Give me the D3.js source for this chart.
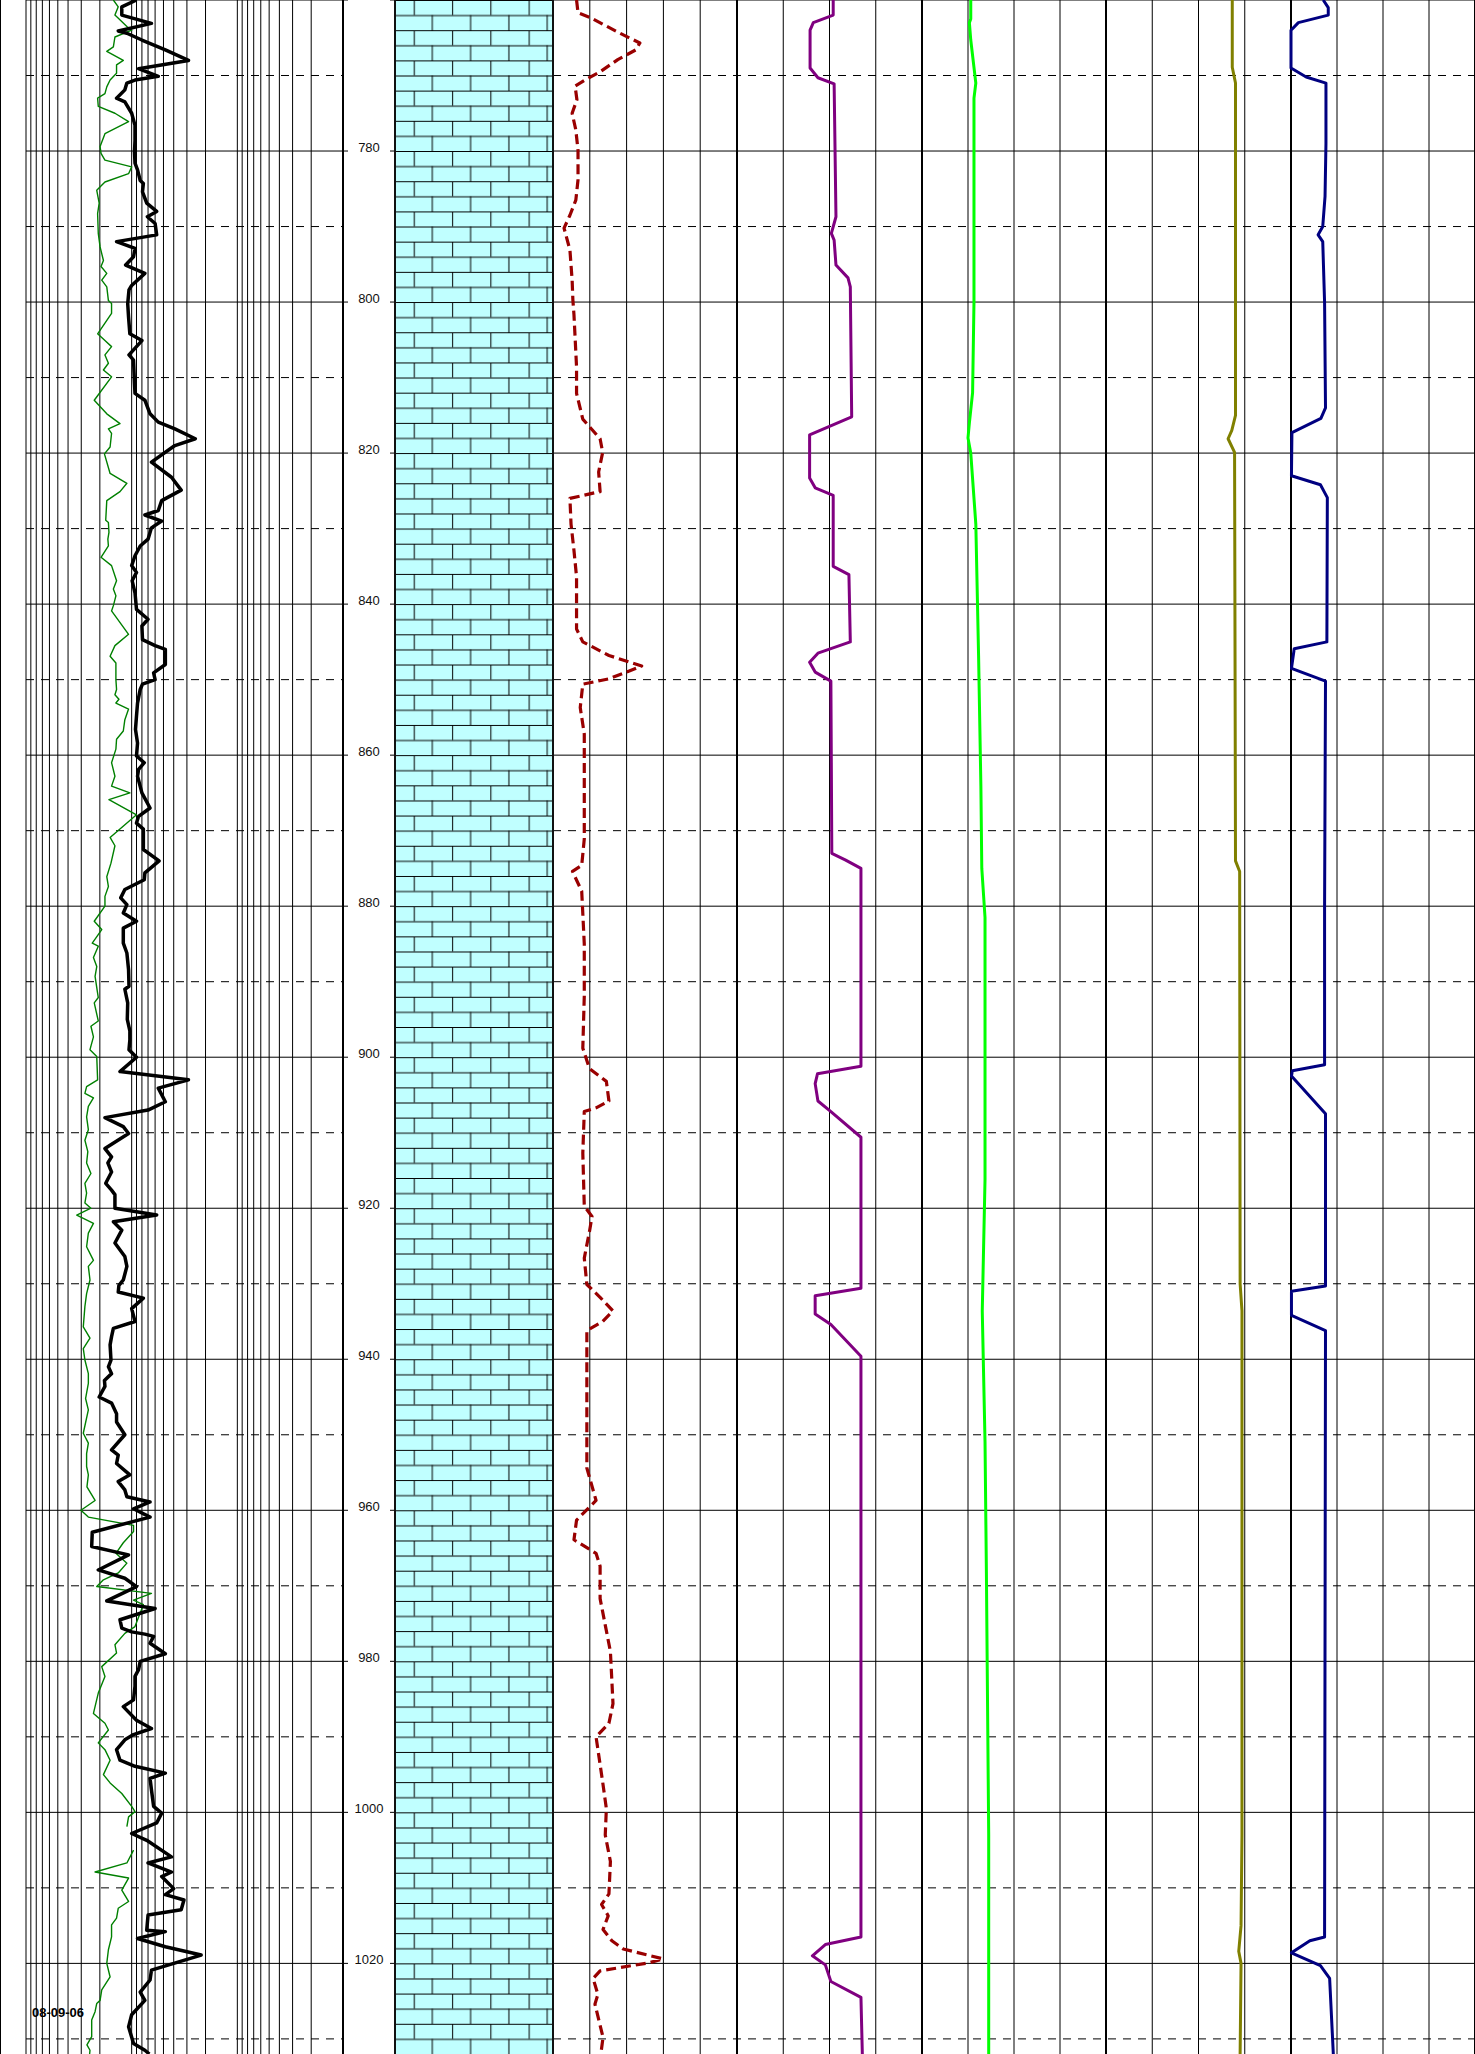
<!DOCTYPE html>
<html>
<head>
<meta charset="utf-8">
<script src="https://cdn.jsdelivr.net/npm/d3@7"></script>
<style>
  body { margin: 0; background: #fff; }
  svg { display: block; font-family: "Liberation Sans", Arial, sans-serif; }
</style>
</head>
<body>
<div id="log"></div>
<script>
const Width = 1475;
const Height = 2054;

// depth axis
const DepthDomain = [760, 1032];
const DepthLabels = [780, 800, 820, 840, 860, 880, 900, 920, 940, 960, 980, 1000, 1020];
const DateLabel = '08-09-06';

// track 1 (log grid): thick black curve, [depth, value]
const blackCurve = [
  [760.0, 90], [760.9, 124], [762.0, 124], [763.1, 65], [764.1, 134], [764.4, 111], [765.3, 80], [766.6, 48],
  [768.0, 29], [769.1, 86], [770.1, 56], [770.6, 93], [771.0, 111], [771.9, 116], [773.0, 139], [773.5, 116],
  [775.0, 100], [776.6, 93], [778.6, 93], [780.1, 94], [781.6, 93], [782.5, 88], [783.9, 83], [784.3, 77.5],
  [785.4, 79], [786.9, 72], [788.0, 58], [788.7, 71], [789.6, 60], [791.1, 58], [792.0, 139], [792.9, 93],
  [794.0, 96], [795.1, 114], [796.2, 75], [797.8, 100], [798.4, 106], [800.2, 109], [802.0, 107], [804.2, 104],
  [805.1, 80], [807.0, 106], [807.7, 96], [810.8, 94], [812.1, 93], [813.0, 75], [814.8, 67], [815.9, 56],
  [816.8, 39], [818.1, 25], [819.0, 39], [821.2, 65], [823.2, 42], [824.9, 34], [826.3, 52], [827.6, 56],
  [828.2, 75], [829.0, 52], [829.9, 65], [831.4, 70], [832.3, 83], [833.6, 93], [834.9, 100], [835.8, 90],
  [836.9, 99], [838.5, 93], [840.7, 90], [842.0, 70], [842.9, 80], [844.7, 79], [845.5, 60], [846.0, 48],
  [848.0, 48], [849.1, 62], [850.0, 60], [850.6, 79], [851.3, 83], [853.1, 88], [854.8, 90], [856.6, 92],
  [858.4, 88], [860.1, 90], [861.0, 76], [861.9, 86], [862.8, 88], [865.0, 80], [867.0, 67], [868.1, 86],
  [869.0, 90], [869.8, 77.5], [872.5, 77.5], [874.0, 55], [875.6, 75], [876.5, 76], [877.8, 116], [878.9, 127],
  [879.8, 111], [880.9, 120], [882.0, 90], [882.9, 120], [884.9, 120], [886.2, 111], [888.4, 107], [890.6, 106],
  [891.0, 116], [892.8, 109], [895.0, 110], [896.5, 104], [897.7, 104], [899.0, 106], [900.0, 90], [901.9, 129],
  [903.0, 29], [904.1, 56], [905.9, 48], [907.0, 70], [908.0, 179], [909.2, 120], [910.1, 107], [912.1, 179],
  [913.2, 155], [914.0, 168], [915.2, 155], [916.7, 176], [917.6, 155], [918.2, 144], [920.0, 144], [920.9, 58],
  [921.8, 149], [922.9, 124], [924.6, 144], [926.4, 116], [927.7, 111], [929.5, 120], [930.2, 132], [931.1, 134],
  [931.9, 77.5], [933.3, 100], [935.0, 93], [935.9, 149], [937.0, 155], [938.1, 160], [940.1, 157], [941.0, 166],
  [941.9, 155], [942.8, 181], [943.6, 179], [945.0, 203], [945.8, 155], [947.2, 139], [948.3, 139], [950.0, 116],
  [952.0, 155], [952.7, 134], [953.8, 139], [955.3, 104], [956.2, 134], [957.3, 116], [958.2, 111], [958.9, 67],
  [959.8, 96], [960.9, 67], [962.9, 236], [964.8, 239], [965.9, 107], [967.9, 207], [969.0, 116], [970.1, 90],
  [972.0, 172], [973.0, 60], [974.5, 129], [975.6, 124], [976.1, 100], [976.4, 75], [976.7, 62], [977.6, 67],
  [979.0, 48], [980.0, 83], [981.1, 86], [982.0, 93], [983.3, 93], [985.1, 96], [986.0, 120], [987.8, 90],
  [988.9, 65], [989.7, 96], [990.4, 116], [991.7, 139], [993.1, 129], [993.9, 93], [994.8, 48], [995.5, 67],
  [997.0, 65], [999.2, 62], [1000.1, 52], [1001.4, 58], [1002.8, 100], [1003.7, 72], [1005.9, 42], [1006.7, 70],
  [1007.9, 42], [1008.5, 52], [1010.1, 40], [1010.9, 48], [1011.6, 32], [1012.9, 34], [1013.6, 70], [1015.6, 72],
  [1015.8, 48], [1016.7, 88], [1017.8, 48], [1018.9, 22], [1020.9, 65], [1022.2, 67], [1023.8, 83], [1024.9, 75],
  [1026.8, 100], [1028.4, 107], [1030.6, 96], [1031.5, 75], [1032, 68]
];

// track 1 (log grid): thin green curve, null = gap
const greenCurve = [
  [760.0, 149], [760.9, 134], [762.0, 144], [763.5, 111], [764.0, 100], [764.9, 144], [766.2, 149], [766.8, 172],
  [768.0, 120], [768.6, 139], [769.7, 139], [770.6, 160], [771.5, 172], [772.4, 179], [773.0, 210], [774.1, 207],
  [775.0, 144], [776.1, 107], [777.7, 179], [779.4, 199], [780.3, 195], [781.2, 179], [782.1, 100], [783.0, 107],
  [784.1, 179], [785.2, 214], [786.9, 203], [788.3, 210], [790.9, 207], [792.7, 199], [794.5, 185], [795.3, 195],
  [796.2, 172], [797.1, 192], [798.0, 172], [799.8, 166], [800.2, 155], [801.5, 155], [802.8, 179], [804.2, 210],
  [805.1, 179], [805.9, 155], [807.0, 179], [808.1, 166], [809.0, 185], [809.9, 155], [813.0, 226], [814.8, 172],
  [816.1, 129], [816.8, 166], [817.4, 155], [819.2, 160], [820.1, 181], [822.7, 160], [824.0, 111], [825.1, 129],
  [826.3, 172], [828.9, 176], [829.2, 166], [830.5, 164], [831.4, 168], [832.3, 166], [833.8, 195], [834.9, 155],
  [836.9, 139], [838.0, 149], [838.9, 141], [840.2, 149], [840.9, 155], [844.0, 107], [845.5, 144], [846.9, 160],
  [847.8, 141], [850.0, 141], [851.3, 139], [852.0, 144], [852.6, 132], [853.1, 141], [853.9, 107], [855.3, 116],
  [856.8, 120], [857.9, 139], [859.2, 141], [861.0, 155], [862.8, 144], [864.1, 155], [865.0, 104], [865.9, 164],
  [867.9, 90], [870.9, 160], [872.0, 144], [874.3, 157], [876.1, 172], [877.4, 166], [878.7, 179], [880.0, 179],
  [882.0, 226], [883.1, 192], [884.9, 236], [885.3, 207], [886.8, 230], [888.0, 214], [889.3, 222], [892.1, 207],
  [892.8, 226], [895.2, 207], [895.9, 243], [897.3, 230], [899.0, 248], [899.9, 214], [903.0, 210], [903.9, 267],
  [904.8, 277], [905.4, 230], [906.5, 257], [907.9, 267], [909.6, 257], [911.0, 277], [912.5, 260], [914.0, 267],
  [915.4, 243], [916.7, 277], [918.0, 267], [919.3, 277], [920.0, 243], [920.9, 331], [922.0, 230], [923.3, 257],
  [925.1, 267], [926.9, 230], [927.7, 257], [929.5, 248], [931.3, 267], [933.0, 277], [935.7, 287], [937.2, 248],
  [938.6, 287], [940.1, 277], [941.9, 257], [943.2, 257], [945.2, 273], [946.7, 257], [949.8, 287], [951.1, 257],
  [952.5, 267], [954.2, 267], [955.3, 257], [956.9, 265], [958.7, 222], [960.0, 302], [960.9, 257], [962.0, 96],
  [962.8, 96], [964.3, 120], [965.7, 141], [967.0, 111], [968.3, 134], [969.2, 185], [970.1, 214], [971.0, 65],
  [971.9, 96], [972.5, 77.5], [975.4, 93], [976.3, 116], [977.8, 144], [978.9, 139], [980.7, 192], [982.0, 179],
  [984.2, 207], [986.9, 230], [988.2, 179], [989.1, 166], [990.8, 207], [991.7, 179], [993.1, 160], [995.0, 185],
  [996.1, 160], [997.5, 124], [999.2, 100], [999.9, 93], [1000.6, 107], [1001.9, 111], [1003.5, null],
  [1005.0, 96], [1006.7, 111], [1007.9, 222], [1008.7, 107], [1010.3, 124], [1011.8, 107], [1012.7, 134],
  [1014.0, 139], [1014.9, 155], [1016.5, 155], [1018.2, 166], [1020.0, 172], [1021.8, 160], [1023.5, 192],
  [1024.9, 199], [1025.3, 214], [1026.4, 222], [1027.5, 239], [1029.7, 239], [1030.8, 265], [1031.5, 248], [1032, 250]
];

// track 3: dark red dashed curve
const redCurve = [
  [760, 6.4], [761.7, 6.8], [762.3, 10.0], [764.4, 18.2], [765.7, 23.6], [766.6, 22.5], [767.9, 17.6], [769.5, 12.8],
  [770.6, 8.7], [771.4, 6.0], [773.2, 6.5], [775.0, 5.2], [777.2, 6.2], [779.9, 6.8], [783.8, 6.8], [786.5, 6.2],
  [788.5, 4.6], [790.2, 3.0], [793.1, 4.6], [797.1, 5.2], [799.7, 5.4], [801.7, 5.7], [808.6, 6.4], [812.1, 6.4],
  [815.5, 8.1], [818.1, 12.8], [819.9, 13.5], [822.5, 12.4], [825.1, 12.8], [826.0, 4.6], [829.4, 4.9], [832.9, 5.7],
  [836.4, 6.4], [843.3, 6.4], [845.0, 8.1], [846.8, 15.2], [848.2, 24.1], [849.9, 15.2], [850.6, 8.1], [853.7, 7.4],
  [857.2, 8.5], [864.1, 8.5], [871.1, 8.5], [874.6, 7.8], [875.4, 5.3], [878.0, 7.8], [885.0, 8.5], [891.9, 8.5],
  [898.8, 8.1], [901.5, 9.9], [903.2, 14.5], [905.8, 15.2], [906.7, 11.7], [907.2, 8.5], [912.7, 8.1], [919.7, 8.5],
  [921.1, 10.6], [923.1, 9.9], [926.6, 8.5], [930.1, 9.2], [931.8, 12.8], [933.6, 16.3], [935.0, 13.5], [936.2, 9.2],
  [940.5, 9.2], [947.4, 9.2], [954.4, 9.2], [958.7, 11.7], [961.3, 6.4], [963.9, 5.7], [965.7, 11.7], [967.4, 12.8],
  [971.7, 12.8], [975.2, 14.2], [978.7, 15.6], [985.6, 16.3], [988.2, 15.2], [990.0, 11.7], [996.0, 13.5], [999.5, 14.5],
  [1003.0, 14.2], [1006.5, 15.6], [1010.8, 15.2], [1012.2, 13.2], [1013.7, 15.0], [1015.5, 13.6], [1017.0, 16.0],
  [1018.1, 19.1], [1019.4, 29.9], [1019.9, 26.3], [1021.0, 12.8], [1022.0, 10.9], [1024.1, 12.2], [1025.4, 11.4],
  [1029.8, 13.6], [1032, 13.0]
];

// track 4: purple curve
const purpleCurve = [
  [760, 20.8], [762.0, 20.8], [763.0, 16.5], [764.0, 15.8], [769.0, 15.8], [770.3, 17.5], [771.1, 21.0], [788.7, 21.4],
  [790.9, 20.4], [791.8, 21.0], [795.1, 21.4], [796.8, 24.0], [798, 24.5], [815.2, 24.8], [817.6, 15.7], [823.3, 15.7],
  [824.6, 16.9], [825.6, 20.8], [835.0, 20.8], [836.1, 24.2], [845.0, 24.5], [846.5, 17.5], [847.7, 15.7], [849.0, 16.9],
  [850.2, 20.3], [873.0, 20.5], [873.9, 23.5], [875.0, 26.8], [901.2, 26.8], [902.2, 17.4], [903.5, 16.9], [905.8, 17.5],
  [907.2, 20.3], [910.6, 26.8], [930.6, 26.8], [931.6, 16.9], [934.0, 16.9], [935.4, 20.3], [939.6, 26.8], [1016.5, 26.8],
  [1017.5, 19.1], [1019.0, 16.3], [1020.2, 19.1], [1022.4, 20.3], [1024.5, 26.8], [1032, 27.1]
];

// track 5: lime curve
const limeCurve = [
  [760, 10.6], [762.5, 10.6], [763.0, 10.3], [765.3, 10.6], [771.0, 11.7], [773, 11.3], [800, 11.3], [812, 11.0],
  [816, 10.3], [818, 10.0], [820, 10.6], [829.4, 11.7], [846.8, 12.3], [864.1, 12.8], [875, 13.0], [881.5, 13.7],
  [916.2, 13.7], [933.6, 13.1], [950.9, 13.7], [968.3, 14.0], [1003, 14.5], [1032, 14.5]
];

// track 6: olive curve
const oliveCurve = [
  [760, 27.3], [768.9, 27.3], [771, 28.0], [815, 28.0], [817, 27.2], [818.1, 26.4], [819.9, 27.8], [874, 28.0],
  [875.4, 28.9], [930, 29.0], [933.6, 29.4], [1003, 29.4], [1015, 29.2], [1018.4, 28.7], [1020, 29.2], [1032, 29.0]
];

// track 7: navy curve
const navyCurve = [
  [760, 7.0], [761, 8.1], [762, 8.1], [763.0, 1.6], [764.0, 0], [769.0, 0], [770.2, 3.3], [771.0, 7.6], [779, 7.6],
  [786, 7.4], [790, 6.9], [791.1, 5.9], [792, 6.9], [800, 7.3], [814, 7.5], [815.4, 6.5], [817.3, 0.2], [823, 0.1],
  [824.2, 6.4], [825.9, 7.9], [845, 7.8], [845.9, 0.7], [848.5, 0.1], [850.2, 7.5], [880, 7.3], [901, 7.3],
  [901.8, 0.3], [902.5, 0.1], [907.5, 7.5], [930.3, 7.5], [931, 0.1], [934.2, 0.1], [936.2, 7.5], [1016.5, 7.3],
  [1017, 4.1], [1018.6, 0.1], [1020.3, 6.4], [1022, 8.4], [1032, 9.2]
];

const svg = d3.select('#log').append('svg')
  .attr('width', Width)
  .attr('height', Height)
  .style('background', '#fff');

const y = d3.scaleLinear().domain(DepthDomain).range([0, Height]);

// tracks: x ranges
const xLog = d3.scaleLog().domain([1000, 1]).range([26, 343]);
const xRed = d3.scaleLinear().domain([0, 50]).range([553, 737]);
const xPurple = d3.scaleLinear().domain([0, 40]).range([737, 922]);
const xLime = d3.scaleLinear().domain([0, 40]).range([922, 1106]);
const xOlive = d3.scaleLinear().domain([0, 40]).range([1106, 1291]);
const xNavy = d3.scaleLinear().domain([0, 40]).range([1291, 1475]);
const linTracks = [
  { x: xRed, ticks: d3.range(0, 51, 10) },
  { x: xPurple, ticks: d3.range(0, 41, 10) },
  { x: xLime, ticks: d3.range(0, 41, 10) },
  { x: xOlive, ticks: d3.range(0, 41, 10) },
  { x: xNavy, ticks: d3.range(0, 41, 10) }
];

const grid = svg.append('g').attr('class', 'grid');

// far left border
grid.append('line').attr('x1', 0.5).attr('x2', 0.5).attr('y1', 0).attr('y2', Height)
  .attr('stroke', '#000').attr('stroke-width', 1);

// log grid verticals
grid.selectAll('.vlog').data(xLog.ticks()).enter().append('line')
  .attr('class', 'vlog')
  .attr('x1', d => xLog(d)).attr('x2', d => xLog(d))
  .attr('y1', 0).attr('y2', Height)
  .attr('stroke', '#000')
  .attr('stroke-width', d => d === 1 ? 2 : 1);

// linear track verticals
linTracks.forEach(t => {
  grid.append('g').selectAll('line').data(t.ticks).enter().append('line')
    .attr('x1', d => t.x(d)).attr('x2', d => t.x(d))
    .attr('y1', 0).attr('y2', Height)
    .attr('stroke', '#000')
    .attr('stroke-width', (d, i) => (i === 0 || i === t.ticks.length - 1) ? 2 : 1);
});

// horizontal depth lines
const depthLines = d3.range(760, 1032, 10);
const spans = [[xLog.range()[0], xLog.range()[1]], [xRed.range()[0], Width]];
spans.forEach(s => {
  grid.append('g').selectAll('line').data(depthLines).enter().append('line')
    .attr('x1', s[0]).attr('x2', s[1])
    .attr('y1', d => y(d)).attr('y2', d => y(d))
    .attr('stroke', '#000')
    .attr('stroke-width', 1)
    .attr('stroke-dasharray', d => d % 20 === 0 ? null : '8,7');
});

// depth ticks in depth column
[[343, 348], [390, 395]].forEach(s => {
  grid.append('g').selectAll('line').data(DepthLabels.concat([760])).enter().append('line')
    .attr('x1', s[0]).attr('x2', s[1])
    .attr('y1', d => y(d)).attr('y2', d => y(d))
    .attr('stroke', '#000').attr('stroke-width', 1);
});

// depth labels
svg.append('g').selectAll('text').data(DepthLabels).enter().append('text')
  .attr('x', 369)
  .attr('y', d => y(d) + 0.5)
  .attr('text-anchor', 'middle')
  .style('font-size', '13px')
  .attr('fill', '#111')
  .text(d => d);

// lithology column (limestone brick pattern)
const rowH = y(762) - y(760);
const brickW = 38.3;
const defs = svg.append('defs');
const pat = defs.append('pattern')
  .attr('id', 'brick')
  .attr('patternUnits', 'userSpaceOnUse')
  .attr('x', 395).attr('y', y(780))
  .attr('width', brickW).attr('height', rowH * 2);
pat.append('rect').attr('width', brickW).attr('height', rowH * 2).attr('fill', '#c0ffff');
pat.append('line').attr('x1', 0).attr('x2', brickW).attr('y1', 0.5).attr('y2', 0.5)
  .attr('stroke', '#000').attr('stroke-width', 1);
pat.append('line').attr('x1', 0).attr('x2', brickW).attr('y1', rowH + 0.5).attr('y2', rowH + 0.5)
  .attr('stroke', '#000').attr('stroke-width', 1);
pat.append('line').attr('x1', 19.3).attr('x2', 19.3).attr('y1', 0).attr('y2', rowH)
  .attr('stroke', '#000').attr('stroke-width', 1);
pat.append('line').attr('x1', 37.3).attr('x2', 37.3).attr('y1', rowH).attr('y2', rowH * 2)
  .attr('stroke', '#000').attr('stroke-width', 1);

svg.append('rect')
  .attr('x', 395).attr('y', 0)
  .attr('width', 553 - 395).attr('height', Height)
  .attr('fill', 'url(#brick)');
svg.append('line').attr('x1', 395).attr('x2', 395).attr('y1', 0).attr('y2', Height)
  .attr('stroke', '#111').attr('stroke-width', 2);
svg.append('line').attr('x1', 553).attr('x2', 553).attr('y1', 0).attr('y2', Height)
  .attr('stroke', '#111').attr('stroke-width', 2);

// curves
function drawCurve(data, x, color, width, dash) {
  const line = d3.line()
    .defined(d => d[1] != null)
    .x(d => x(d[1]))
    .y(d => y(d[0]));
  svg.append('path')
    .datum(data)
    .attr('d', line)
    .attr('fill', 'none')
    .attr('stroke', color)
    .attr('stroke-width', width)
    .attr('stroke-linejoin', 'round')
    .attr('stroke-dasharray', dash || null);
}

drawCurve(greenCurve, xLog, '#008000', 1.4);
drawCurve(blackCurve, xLog, '#000', 3.5);
drawCurve(redCurve, xRed, '#990000', 3.2, '10,5');
drawCurve(purpleCurve, xPurple, '#800080', 3);
drawCurve(limeCurve, xLime, '#00ff00', 3);
drawCurve(oliveCurve, xOlive, '#808000', 3);
drawCurve(navyCurve, xNavy, '#000080', 3);

// date label
svg.append('text')
  .attr('x', 32)
  .attr('y', 2016.5)
  .style('font-size', '13px')
  .style('font-weight', 'bold')
  .text(DateLabel);
</script>
</body>
</html>
